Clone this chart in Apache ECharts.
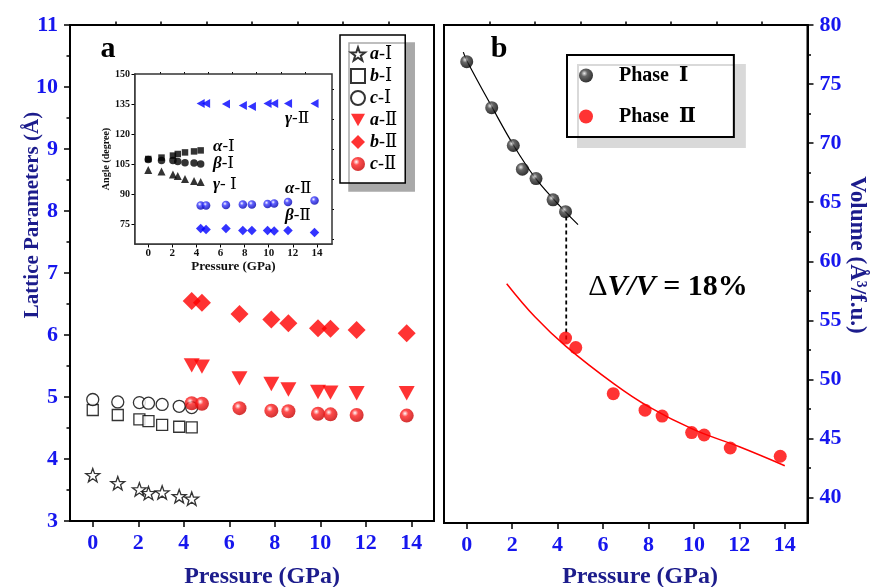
<!DOCTYPE html>
<html><head><meta charset="utf-8">
<script src="https://cdn.jsdelivr.net/npm/echarts@6/dist/echarts.min.js"></script>
<style>html,body{margin:0;padding:0;background:#fff}#c{width:873px;height:587px}</style>
</head><body><div id="c"></div>
<script>
// ---------------- data ----------------
const pressureI = [0, 1.1, 2.05, 2.45, 3.05, 3.8, 4.35];
const pressureII = [4.35, 4.8, 6.45, 7.85, 8.6, 9.9, 10.45, 11.6, 13.8];
// panel a: lattice parameters (Å)
const latA_I = [3.74, 3.61, 3.51, 3.45, 3.46, 3.40, 3.36];
const latB_I = [4.79, 4.71, 4.64, 4.61, 4.55, 4.52, 4.51];
const latC_I = [4.96, 4.92, 4.91, 4.90, 4.88, 4.85, 4.83];
const latA_II = [5.51, 5.49, 5.30, 5.21, 5.12, 5.08, 5.07, 5.06, 5.06];
const latB_II = [6.55, 6.52, 6.34, 6.25, 6.19, 6.11, 6.10, 6.08, 6.03];
const latC_II = [4.90, 4.89, 4.82, 4.78, 4.77, 4.73, 4.72, 4.71, 4.70];
// inset: angles (degree)
const alphaI = [107.5, 108.2, 109.2, 110.0, 110.8, 111.3, 111.8];
const betaI = [107.2, 106.8, 106.7, 106.3, 105.6, 105.5, 105.0];
const gammaI = [102.0, 101.2, 99.7, 99.0, 97.5, 96.5, 96.0];
const alphaII = [84.3, 84.3, 84.5, 84.7, 84.8, 85.0, 85.3, 86.0, 86.7];
const betaII = [72.7, 72.3, 72.7, 71.8, 71.8, 71.7, 71.5, 71.8, 70.8];
const gammaII = [135.3, 135.3, 135.0, 134.3, 133.8, 135.2, 135.3, 135.3, 135.3];
// panel b: volume (Å^3/f.u.)
const volumeI = [76.9, 73.0, 69.8, 67.8, 67.0, 65.2, 64.2];
const volumeII = [53.5, 52.7, 48.8, 47.4, 46.9, 45.5, 45.3, 44.2, 43.5];
// fitted EOS curves
const fitI_P = [-0.15, 0, 1.1, 2.1, 3.0, 3.9, 4.9];
const fitI_V = [77.7, 77.0, 73.1, 69.7, 67.1, 65.1, 63.1];
const fitII_P = [1.76, 3.0, 4.37, 6.5, 8.0, 10.0, 12.0, 14.0];
const fitII_V = [58.1, 55.3, 52.8, 49.6, 47.7, 45.75, 44.3, 42.7];
const dropP = [4.38, 4.38];
const dropV = [63.8, 53.1];
// ticks
const pressTicks = [0, 2, 4, 6, 8, 10, 12, 14];
const pressMinor = [1, 3, 5, 7, 9, 11, 13];
const volTicks = [40, 45, 50, 55, 60, 65, 70, 75, 80];
const volMinor = [42.5, 47.5, 52.5, 57.5, 62.5, 67.5, 72.5, 77.5];
const angTicks = [75, 90, 105, 120, 135, 150];
const angMinor = [67.5, 82.5, 97.5, 112.5, 127.5, 142.5];

// ---------------- helpers ----------------
const FONT = "'Liberation Serif','DejaVu Serif','Noto Sans CJK SC',serif";
const LBL = '#1616ee';
const TTL = '#1c1c8c';
const pairs = (xs, ys) => xs.map((x, i) => [x, ys[i]]);
const sphere = (c0, c1, c2) => ({type: 'radial', x: 0.38, y: 0.35, r: 0.65,
  colorStops: [{offset: 0, color: c0}, {offset: 0.35, color: c1}, {offset: 1, color: c2}]});
const redSphere = sphere('#ffffff', '#ff2020', '#c80000');
const blueSphere = sphere('#ffffff', '#3a3aff', '#0000b0');
const blackSphere = sphere('#e6e6e6', '#404040', '#000000');
const STAR = 'path://M10,0 L12.351,6.764 L19.511,6.910 L13.804,11.236 L15.878,18.090 L10,14 L4.122,18.090 L6.196,11.236 L0.489,6.910 L7.649,6.764 Z';
const TRI_DOWN = 'path://M0,0 L10,0 L5,9 Z';
const TRI_LEFT = 'path://M0,5 L9,0 L9,10 Z';
const hollow = {color: '#fff', borderColor: '#000', borderWidth: 1.3};

function xAx(grid, min, max, opt) {
  return Object.assign({type: 'value', gridIndex: grid, min: min, max: max, splitLine: {show: false}}, opt);
}
const tick = (vals, len, w) => ({show: true, customValues: vals, length: len, lineStyle: {color: '#000', width: w}});
const noLabel = {show: false};

const option = {
  animation: false,
  backgroundColor: '#fff',
  grid: [
    {left: 70, top: 25, width: 364, height: 496, show: true, borderColor: '#000', borderWidth: 2, backgroundColor: 'transparent'},
    {left: 135, top: 74, width: 197, height: 170, show: true, borderColor: '#333', borderWidth: 1.5, backgroundColor: '#fff', z: 5},
    {left: 444, top: 25, width: 363.5, height: 498, show: true, borderColor: '#000', borderWidth: 2, backgroundColor: 'transparent'}
  ],
  xAxis: [
    xAx(0, -1, 15, {axisLine: {onZero: false, lineStyle: {color: '#000', width: 2}}, axisTick: tick(pressTicks, 6, 1.5),
      axisLabel: {customValues: pressTicks, margin: 11, color: LBL, fontFamily: FONT, fontWeight: 'bold', fontSize: 22}}),
    xAx(0, -1, 15, {axisLine: {show: false, onZero: false}, axisTick: tick(pressMinor, 3.5, 1.5), axisLabel: noLabel}),
    xAx(1, -1.1, 15.25, {axisLine: {onZero: false, lineStyle: {color: '#333', width: 1.5}}, axisTick: tick(pressTicks, 3.5, 1),
      axisLabel: {customValues: pressTicks, margin: 4, color: '#111', fontFamily: FONT, fontWeight: 'bold', fontSize: 11},
      name: 'Pressure (GPa)', nameLocation: 'middle', nameGap: 14,
      nameTextStyle: {color: '#111', fontFamily: FONT, fontWeight: 'bold', fontSize: 13, verticalAlign: 'top'}}),
    xAx(1, -1.1, 15.25, {axisLine: {show: false, onZero: false}, axisTick: tick(pressMinor, 2, 1), axisLabel: noLabel}),
    xAx(2, -1, 15, {axisLine: {onZero: false, lineStyle: {color: '#000', width: 2}}, axisTick: tick(pressTicks, 6, 1.5),
      axisLabel: {customValues: pressTicks, margin: 11, color: LBL, fontFamily: FONT, fontWeight: 'bold', fontSize: 22}}),
    xAx(2, -1, 15, {axisLine: {show: false, onZero: false}, axisTick: tick(pressMinor, 3.5, 1.5), axisLabel: noLabel})
  ],
  yAxis: [
    {type: 'value', gridIndex: 0, min: 3, max: 11, interval: 1, splitLine: {show: false},
      axisLine: {show: true, onZero: false, lineStyle: {color: '#000', width: 2}},
      axisTick: {show: true, length: 6, lineStyle: {color: '#000', width: 1.5}},
      minorTick: {show: true, splitNumber: 2, length: 3.5, lineStyle: {color: '#000', width: 1.5}},
      axisLabel: {margin: 12, color: LBL, fontFamily: FONT, fontWeight: 'bold', fontSize: 22}},
    {type: 'value', gridIndex: 1, min: 65, max: 150, splitLine: {show: false},
      axisLine: {show: true, onZero: false, lineStyle: {color: '#333', width: 1.5}},
      axisTick: tick(angTicks, 3.5, 1),
      axisLabel: {customValues: angTicks, margin: 5, color: '#111', fontFamily: FONT, fontWeight: 'bold', fontSize: 10},
      name: 'Angle (degree)', nameLocation: 'middle', nameGap: 24, nameRotate: 90,
      nameTextStyle: {color: '#111', fontFamily: FONT, fontWeight: 'bold', fontSize: 10}},
    {type: 'value', gridIndex: 1, min: 65, max: 150, splitLine: {show: false},
      axisLine: {show: false, onZero: false}, axisTick: tick(angMinor, 2, 1), axisLabel: noLabel},
    {type: 'value', gridIndex: 2, position: 'right', min: 37.85, max: 80, splitLine: {show: false},
      axisLine: {show: true, onZero: false, lineStyle: {color: '#000', width: 2}},
      axisTick: tick(volTicks, 6, 1.5),
      axisLabel: {customValues: volTicks, margin: 12, color: LBL, fontFamily: FONT, fontWeight: 'bold', fontSize: 22}},
    {type: 'value', gridIndex: 2, position: 'right', min: 37.85, max: 80, splitLine: {show: false},
      axisLine: {show: false, onZero: false}, axisTick: tick(volMinor, 3.5, 1.5), axisLabel: noLabel}
  ],
  legend: [
    {orient: 'vertical', left: 340, top: 35, selectedMode: false,
      data: ['a-I', 'b-I', 'c-I', 'a-II', 'b-II', 'c-II'],
      itemWidth: 14, itemHeight: 14, itemGap: 4, padding: [10, 8, 10, 10],
      backgroundColor: '#fff', borderColor: '#000', borderWidth: 1.5,
      shadowColor: '#a9a9a9', shadowBlur: 0, shadowOffsetX: 9, shadowOffsetY: 8,
      formatter: function (n) { const p = n.split('-'); return '{i|' + p[0] + '}{n|-' + (p[1] === 'I' ? 'Ⅰ' : 'Ⅱ') + '}'; },
      textStyle: {fontFamily: FONT, fontSize: 18, color: '#000',
        rich: {i: {fontFamily: FONT, fontSize: 18, fontStyle: 'italic', fontWeight: 'bold'},
               n: {fontFamily: FONT, fontSize: 18, fontWeight: 'normal'}}}},
    {orient: 'vertical', left: 567, top: 55, selectedMode: false,
      data: ['Phase I', 'Phase II'],
      itemWidth: 56, itemHeight: 14, itemGap: 21, padding: [10.5, 38, 10.5, 12],
      backgroundColor: '#fff', borderColor: '#000', borderWidth: 2,
      shadowColor: '#d9d9d9', shadowBlur: 0, shadowOffsetX: 11, shadowOffsetY: 10,
      formatter: function (n) { return n === 'Phase I' ? 'Phase  Ⅰ' : 'Phase  Ⅱ'; },
      textStyle: {fontFamily: FONT, fontSize: 20, fontWeight: 'bold', lineHeight: 20, color: '#000'}}
  ],
  series: [
    // panel a
    {name: 'a-I', type: 'scatter', xAxisIndex: 0, yAxisIndex: 0, data: pairs(pressureI, latA_I), symbol: STAR, symbolKeepAspect: true, symbolSize: 14, itemStyle: hollow},
    {name: 'b-I', type: 'scatter', xAxisIndex: 0, yAxisIndex: 0, data: pairs(pressureI, latB_I), symbol: 'rect', symbolSize: 11, itemStyle: hollow},
    {name: 'c-I', type: 'scatter', xAxisIndex: 0, yAxisIndex: 0, data: pairs(pressureI, latC_I), symbol: 'circle', symbolSize: 12, itemStyle: hollow},
    {name: 'a-II', type: 'scatter', xAxisIndex: 0, yAxisIndex: 0, data: pairs(pressureII, latA_II), symbol: TRI_DOWN, symbolKeepAspect: true, symbolSize: 16, itemStyle: {color: '#ff0000'}},
    {name: 'b-II', type: 'scatter', xAxisIndex: 0, yAxisIndex: 0, data: pairs(pressureII, latB_II), symbol: 'diamond', symbolSize: 18, itemStyle: {color: '#ff0000'}},
    {name: 'c-II', type: 'scatter', xAxisIndex: 0, yAxisIndex: 0, data: pairs(pressureII, latC_II), symbol: 'circle', symbolSize: 14, itemStyle: {color: redSphere}},
    // inset
    {name: 'alpha-I', type: 'scatter', xAxisIndex: 2, yAxisIndex: 1, z: 6, data: pairs(pressureI, alphaI), symbol: 'rect', symbolSize: 6.5, itemStyle: {color: '#000'}},
    {name: 'beta-I', type: 'scatter', xAxisIndex: 2, yAxisIndex: 1, z: 6, data: pairs(pressureI, betaI), symbol: 'circle', symbolSize: 7.5, itemStyle: {color: '#000'}},
    {name: 'gamma-I', type: 'scatter', xAxisIndex: 2, yAxisIndex: 1, z: 6, data: pairs(pressureI, gammaI), symbol: 'triangle', symbolSize: 8, itemStyle: {color: '#000'}},
    {name: 'alpha-II', type: 'scatter', xAxisIndex: 2, yAxisIndex: 1, z: 6, data: pairs(pressureII, alphaII), symbol: 'circle', symbolSize: 8.5, itemStyle: {color: blueSphere}},
    {name: 'beta-II', type: 'scatter', xAxisIndex: 2, yAxisIndex: 1, z: 6, data: pairs(pressureII, betaII), symbol: 'diamond', symbolSize: 9.5, itemStyle: {color: '#0000ff'}},
    {name: 'gamma-II', type: 'scatter', xAxisIndex: 2, yAxisIndex: 1, z: 6, data: pairs(pressureII, gammaII), symbol: TRI_LEFT, symbolKeepAspect: true, symbolSize: 9, itemStyle: {color: '#0000ff'}},
    // panel b
    {name: 'fit I', type: 'line', xAxisIndex: 4, yAxisIndex: 3, data: pairs(fitI_P, fitI_V), smooth: 0.4, showSymbol: false, symbol: 'none', lineStyle: {color: '#000', width: 1.2}},
    {name: 'fit II', type: 'line', xAxisIndex: 4, yAxisIndex: 3, data: pairs(fitII_P, fitII_V), smooth: 0.4, showSymbol: false, symbol: 'none', lineStyle: {color: '#ff0000', width: 1.5}},
    {name: 'drop', type: 'line', xAxisIndex: 4, yAxisIndex: 3, data: pairs(dropP, dropV), showSymbol: false, symbol: 'none', lineStyle: {color: '#000', width: 1.8, type: [4, 3]}},
    {name: 'Phase I', type: 'scatter', xAxisIndex: 4, yAxisIndex: 3, z: 4, data: pairs(pressureI, volumeI), symbol: 'circle', symbolSize: 13, itemStyle: {color: blackSphere}},
    {name: 'Phase II', type: 'scatter', xAxisIndex: 4, yAxisIndex: 3, z: 4, data: pairs(pressureII, volumeII), symbol: 'circle', symbolSize: 13, itemStyle: {color: '#ff0000'}}
  ],
  graphic: [
    {type: 'text', x: 108, y: 49, style: {text: 'a', fill: '#000', font: 'bold 30px ' + FONT, align: 'center', verticalAlign: 'middle'}},
    {type: 'text', x: 499, y: 49, style: {text: 'b', fill: '#000', font: 'bold 30px ' + FONT, align: 'center', verticalAlign: 'middle'}},
    {type: 'text', x: 33, y: 215, rotation: Math.PI / 2, style: {text: 'Lattice Parameters (Å)', fill: TTL, font: 'bold 21px ' + FONT, align: 'center', verticalAlign: 'middle'}},
    {type: 'text', x: 857, y: 255, rotation: -Math.PI / 2, style: {text: 'Volume (Å³/f.u.)', fill: TTL, font: 'bold 23px ' + FONT, align: 'center', verticalAlign: 'middle'}},
    {type: 'text', x: 262, y: 577, style: {text: 'Pressure (GPa)', fill: TTL, font: 'bold 24px ' + FONT, align: 'center', verticalAlign: 'middle'}},
    {type: 'text', x: 640, y: 577, style: {text: 'Pressure (GPa)', fill: TTL, font: 'bold 24px ' + FONT, align: 'center', verticalAlign: 'middle'}},
    {type: 'text', x: 668, y: 287, style: {text: '{n|Δ}{i|V/V}{b| = 18%}', align: 'center', verticalAlign: 'middle',
      rich: {n: {fontFamily: FONT, fontSize: 30, color: '#000'},
             i: {fontFamily: FONT, fontSize: 30, fontStyle: 'italic', fontWeight: 'bold', color: '#000'},
             b: {fontFamily: FONT, fontSize: 30, fontWeight: 'bold', color: '#000'}}}},
    // inset annotations
    {type: 'text', x: 285, y: 119, z: 100, style: {text: '{i|γ}{n|-Ⅱ}', verticalAlign: 'middle', rich: {i: {fontFamily: FONT, fontSize: 17, fontStyle: 'italic', fontWeight: 'bold'}, n: {fontFamily: FONT, fontSize: 17}}}},
    {type: 'text', x: 213, y: 147, z: 100, style: {text: '{i|α}{n|-Ⅰ}', verticalAlign: 'middle', rich: {i: {fontFamily: FONT, fontSize: 17, fontStyle: 'italic', fontWeight: 'bold'}, n: {fontFamily: FONT, fontSize: 17}}}},
    {type: 'text', x: 213, y: 164, z: 100, style: {text: '{i|β}{n|-Ⅰ}', verticalAlign: 'middle', rich: {i: {fontFamily: FONT, fontSize: 17, fontStyle: 'italic', fontWeight: 'bold'}, n: {fontFamily: FONT, fontSize: 17}}}},
    {type: 'text', x: 213, y: 185, z: 100, style: {text: '{i|γ}{n|- Ⅰ}', verticalAlign: 'middle', rich: {i: {fontFamily: FONT, fontSize: 17, fontStyle: 'italic', fontWeight: 'bold'}, n: {fontFamily: FONT, fontSize: 17}}}},
    {type: 'text', x: 285, y: 189, z: 100, style: {text: '{i|α}{n|-Ⅱ}', verticalAlign: 'middle', rich: {i: {fontFamily: FONT, fontSize: 17, fontStyle: 'italic', fontWeight: 'bold'}, n: {fontFamily: FONT, fontSize: 17}}}},
    {type: 'text', x: 285, y: 216, z: 100, style: {text: '{i|β}{n|-Ⅱ}', verticalAlign: 'middle', rich: {i: {fontFamily: FONT, fontSize: 17, fontStyle: 'italic', fontWeight: 'bold'}, n: {fontFamily: FONT, fontSize: 17}}}}
  ]
};
const chart = echarts.init(document.getElementById('c'), null, {renderer: 'canvas'});
chart.setOption(option);
</script></body></html>
